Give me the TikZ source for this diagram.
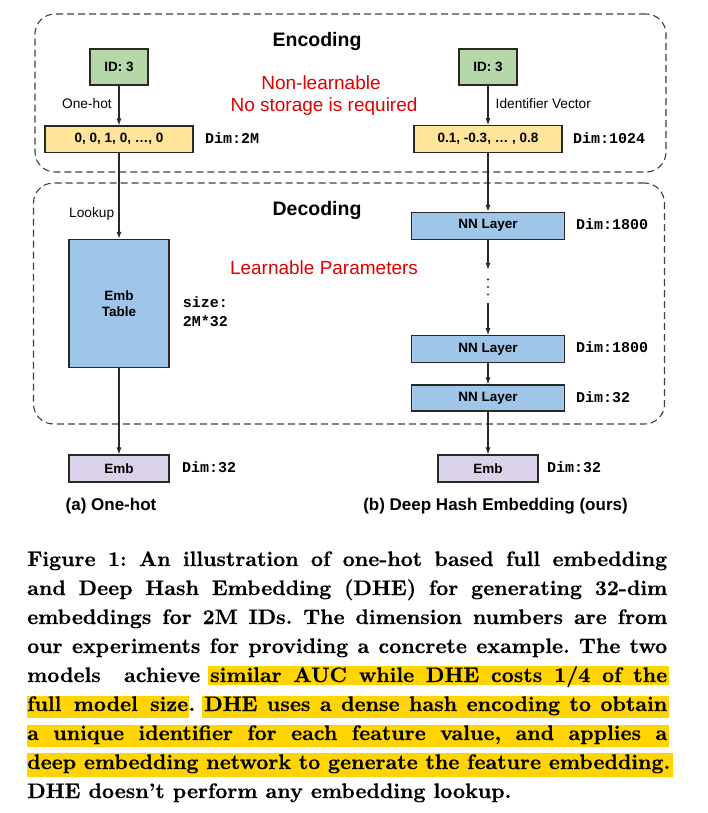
\documentclass[tikz,border=0pt]{standalone}
\usepackage{fontspec}
\setsansfont{Liberation Sans}
\setmonofont{Liberation Mono}
\newfontfamily\capfont{lmroman10-bold.otf}[FakeBold=0.4]
\usetikzlibrary{arrows.meta}
\definecolor{gfill}{RGB}{182,215,168}
\definecolor{yfill}{RGB}{255,229,153}
\definecolor{bfill}{RGB}{159,197,232}
\definecolor{pfill}{RGB}{217,210,233}
\definecolor{redtxt}{RGB}{224,0,0}
\definecolor{hl}{RGB}{255,212,0}
\definecolor{edgec}{RGB}{40,40,40}
\begin{document}
\begin{tikzpicture}[x=1pt,y=-1pt,
  frame/.style={draw=black!75, line width=1.1pt, dash pattern=on 7pt off 4pt, rounded corners=20pt, inner sep=0pt},
  box/.style={draw=edgec, line width=1.1pt, inner sep=0pt, align=center, font=\sffamily\bfseries\fontsize{13.5}{16}\selectfont},
  lbl/.style={font=\sffamily\fontsize{13.7}{16}\selectfont, inner sep=0pt, anchor=base west},
  dimlbl/.style={font=\ttfamily\bfseries\fontsize{15}{18}\selectfont, inner sep=0pt, anchor=base west},
  ttl/.style={font=\sffamily\bfseries\fontsize{19.5}{22}\selectfont, inner sep=0pt, anchor=base},
  note/.style={font=\sffamily\fontsize{19}{22}\selectfont, text=redtxt, inner sep=0pt, anchor=base},
  sublbl/.style={font=\sffamily\bfseries\fontsize{17}{20}\selectfont, inner sep=0pt, anchor=base},
  captxt/.style={font=\capfont\fontsize{21}{29}\selectfont\frenchspacing, inner sep=0pt, anchor=base west},
  arr/.style={draw=edgec, line width=1.1pt, -{Latex[length=7pt,width=5pt]}}
]
\useasboundingbox (0,0) rectangle (707,813);

% frames
\node[frame, minimum width=631pt, minimum height=158pt] (enc) at (350.5,93) {};
\node[frame, minimum width=631pt, minimum height=241pt] (dec) at (349,303.5) {};

% titles
\node[ttl] (enctitle) at (317,46.7) {Encoding};
\node[ttl] (dectitle) at (317,215) {Decoding};
\node[note] (nl1) at (321,89.5) {Non-learnable};
\node[note] (nl2) at (324,112) {No storage is required};
\node[note] (lp) at (324,274.5) {Learnable Parameters};

% left column
\node[box, fill=gfill, minimum width=58pt, minimum height=36pt] (lid) at (119,67) {ID: 3};
\node[box, fill=yfill, minimum width=148pt, minimum height=26.5pt] (lvec) at (119,139.3) {0, 0, 1, 0, …, 0};
\node[box, fill=bfill, minimum width=100pt, minimum height=128.4pt] (table) at (119,303.5) {Emb\\Table};
\node[box, fill=pfill, minimum width=100pt, minimum height=27pt] (lemb) at (119,468.5) {Emb};

% right column
\node[box, fill=gfill, minimum width=58pt, minimum height=36pt] (rid) at (488,67) {ID: 3};
\node[box, fill=yfill, minimum width=148pt, minimum height=26.5pt] (rvec) at (488,139) {0.1, -0.3, … , 0.8};
\node[box, fill=bfill, minimum width=153.6pt, minimum height=26.7pt] (nn1) at (488,225.7) {NN Layer};
\node[minimum width=4pt, minimum height=33pt, inner sep=0pt] (dots) at (488,286.5) {};
\node[box, fill=bfill, minimum width=153.6pt, minimum height=27pt] (nn2) at (488,349.2) {NN Layer};
\node[box, fill=bfill, minimum width=153.6pt, minimum height=26pt] (nn3) at (488,398) {NN Layer};
\node[box, fill=pfill, minimum width=100pt, minimum height=27pt] (remb) at (488,468.5) {Emb};

\fill[edgec] (488,279.5) circle (1.2pt) (488,287) circle (1.2pt) (488,294.5) circle (1.2pt);

% side labels
\node[lbl] (onehot) at (62,108.3) {One-hot};
\node[lbl] (idvec) at (495.5,108.3) {Identifier Vector};
\node[lbl] (lookup) at (69,217) {Lookup};
\node[dimlbl] (d2m) at (205,143.3) {Dim:2M};
\node[dimlbl] (d1024) at (573,143.3) {Dim:1024};
\node[dimlbl] (size1) at (182.7,307.5) {size:};
\node[dimlbl] (size2) at (182.7,326) {2M*32};
\node[dimlbl] (dl32) at (182,472) {Dim:32};
\node[dimlbl] (d1800a) at (576,229) {Dim:1800};
\node[dimlbl] (d1800b) at (576,352.7) {Dim:1800};
\node[dimlbl] (d32a) at (576,402) {Dim:32};
\node[dimlbl] (dr32) at (547,472) {Dim:32};

\node[sublbl] (suba) at (111,510) {(a) One-hot};
\node[sublbl] (subb) at (495.5,510) {(b) Deep Hash Embedding (ours)};

% connectors
\draw[arr] (lid) -- (lvec);
\draw[arr] (lvec) -- (table);
\draw[arr] (table) -- (lemb);
\draw[arr] (rid) -- (rvec);
\draw[arr] (rvec) -- (nn1);
\draw[arr] (nn1) -- (dots.north);
\draw[arr] (dots.south) -- (nn2);
\draw[arr] (nn2) -- (nn3);
\draw[arr] (nn3) -- (remb);

% caption highlights
\fill[hl] (207.5,666) rectangle (668.5,684.5);
\fill[hl] (27,696) rectangle (189,718);
\fill[hl] (201.5,696) rectangle (669,718);
\fill[hl] (27,725) rectangle (669,747);
\fill[hl] (27,753) rectangle (673,777);

% caption
\node[captxt] (c1) at (27,566) {\makebox[640pt][s]{Figure 1: An illustration of one-hot based full embedding}};
\node[captxt] (c2) at (27,595) {\makebox[640pt][s]{and Deep Hash Embedding (DHE) for generating 32-dim}};
\node[captxt] (c3) at (27,624) {\makebox[640pt][s]{embeddings for 2M IDs. The dimension numbers are from}};
\node[captxt] (c4) at (27,653) {\makebox[640pt][s]{our experiments for providing a concrete example. The two}};
\node[captxt] (c5a) at (27,682) {\makebox[173pt][s]{models achieve}};
\node[captxt] (c5b) at (210,682) {\makebox[457pt][s]{similar AUC while DHE costs 1/4 of the}};
\node[captxt] (c6a) at (27,711) {\makebox[161pt][s]{full model size}};
\node[captxt, anchor=base west] (c6p) at (c6a.base east) {.};
\node[captxt] (c6b) at (204,711) {\makebox[463pt][s]{DHE uses a dense hash encoding to obtain}};
\node[captxt] (c7) at (27,740) {\makebox[640pt][s]{a unique identifier for each feature value, and applies a}};
\node[captxt] (c8) at (27,769) {\makebox[643pt][s]{deep embedding network to generate the feature embedding.}};
\node[captxt] (c9) at (27,798) {DHE doesn’t perform any embedding lookup.};
\end{tikzpicture}
\end{document}
